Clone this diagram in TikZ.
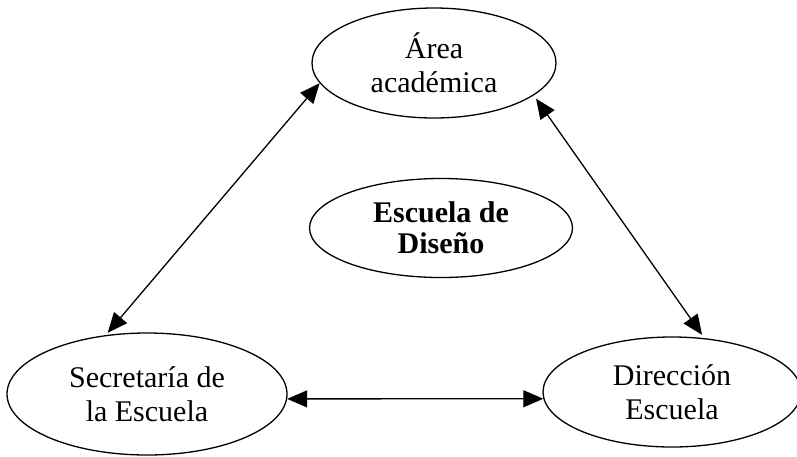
\documentclass[tikz,border=0pt]{standalone}
\usepackage{fontspec}
\setmainfont{Liberation Serif}
\usetikzlibrary{shapes, arrows.meta, positioning}

\begin{document}
\begin{tikzpicture}[x=1pt, y=-1pt,
  area/.style={draw, ellipse, line width=1.3pt, inner sep=0pt, align=center,
    font=\fontsize{30}{34}\selectfont},
  flecha/.style={<->, >={Triangle[length=20pt, width=17pt]}, line width=1.3pt}]
  \useasboundingbox (0,0) rectangle (797,456);

  % Elipses
  \node[area, minimum width=244pt, minimum height=110pt] (academica) at (434,63) {Área\\académica};
  \node[area, minimum width=263pt, minimum height=99pt,
    font=\fontsize{30}{31}\selectfont\bfseries] (escuela) at (441,228) {Escuela de\\Diseño};
  \node[area, minimum width=280pt, minimum height=122pt] (secretaria) at (147,394) {Secretaría de\\la Escuela};
  \node[area, minimum width=258pt, minimum height=110pt] (direccion) at (672,392) {Dirección\\Escuela};

  % Flechas
  \draw[flecha, shorten >=3pt] (academica.190) -- (secretaria.125);
  \draw[flecha] (secretaria.-2.5) -- (direccion.183.5);
  \draw[flecha, shorten <=4pt, shorten >=4pt] (academica.-18) -- (direccion.59);
\end{tikzpicture}
\end{document}
